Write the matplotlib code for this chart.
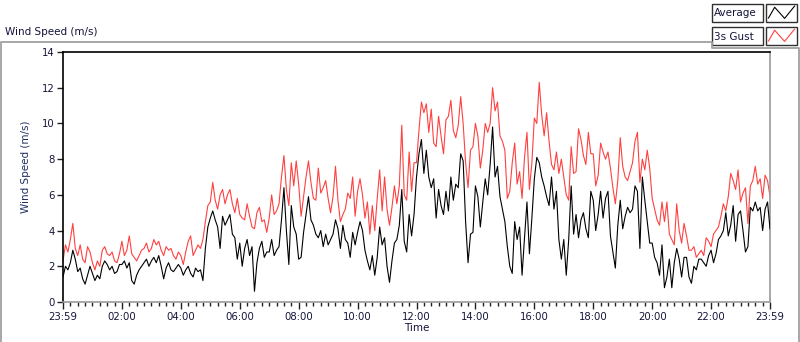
import numpy as np
import matplotlib
matplotlib.use("Agg")
import matplotlib.pyplot as plt
from matplotlib.lines import Line2D
from matplotlib.patches import Rectangle

# ---- data: 5-minute samples, 23:59 -> 23:59 ----
sample_minutes = 5
avg_speed = [
    1.4, 2.0, 1.8, 2.2, 2.9, 2.4, 1.7, 1.9, 1.3, 1.0, 1.5, 2.0,
    1.6, 1.2, 1.5, 1.3, 2.0, 2.3, 2.1, 1.8, 2.0, 1.6, 1.7, 2.1,
    2.1, 2.3, 1.9, 2.2, 1.2, 1.0, 1.5, 1.8, 2.0, 2.2, 2.4, 2.0,
    2.3, 2.5, 2.2, 2.6, 2.0, 1.3, 1.9, 2.2, 1.8, 1.7, 1.9, 2.1,
    1.9, 1.5, 1.8, 2.0, 1.6, 1.4, 1.9, 1.7, 1.8, 1.2, 3.0, 4.2,
    4.7, 5.1, 4.6, 4.2, 3.0, 4.8, 4.3, 4.6, 4.9, 3.8, 3.6, 2.4,
    3.3, 2.0, 3.0, 3.5, 2.6, 3.1, 0.6, 2.2, 3.0, 3.4, 2.5, 2.8,
    2.8, 3.5, 2.6, 2.9, 3.1, 4.6, 6.4, 4.0, 2.1, 5.4, 4.2, 3.8,
    2.4, 2.5, 3.9, 4.9, 5.9, 4.6, 4.3, 3.8, 3.6, 4.0, 3.1, 3.8,
    3.2, 3.5, 3.8, 4.6, 4.1, 3.0, 4.3, 3.5, 3.3, 2.5, 3.9, 3.2,
    3.9, 4.5, 4.0, 2.9, 2.3, 1.8, 2.6, 1.5, 2.5, 4.2, 3.2, 3.6,
    2.0, 1.1, 2.3, 3.3, 3.5, 4.3, 6.3, 3.4, 2.8, 4.9, 3.7, 4.9,
    7.0, 8.3, 9.1, 7.2, 8.5, 7.0, 6.4, 6.9, 4.7, 6.3, 5.4, 4.9,
    6.2, 5.1, 7.0, 5.7, 6.6, 6.4, 8.3, 7.9, 4.5, 2.2, 3.8, 3.9,
    6.5, 5.9, 4.2, 5.6, 6.9, 6.0, 7.7, 9.8, 7.0, 7.6, 5.9, 5.2,
    4.5, 3.1, 2.0, 1.6, 4.5, 3.5, 4.2, 1.5, 3.6, 5.6, 2.7, 4.7,
    6.9, 8.1, 7.8, 7.0, 6.5, 5.9, 5.4, 7.0, 5.2, 6.2, 3.5, 2.4,
    3.5, 1.5, 3.5, 6.5, 3.8, 4.9, 3.6, 4.6, 5.0, 4.1, 3.6, 6.2,
    5.7, 4.0, 4.9, 6.2, 4.7, 5.8, 6.2, 3.7, 2.8, 1.9, 4.3, 5.7,
    4.1, 4.8, 5.3, 5.0, 5.2, 6.5, 6.2, 3.0, 7.0, 5.7, 4.5, 3.3,
    3.3, 2.5, 2.2, 1.5, 3.2, 0.8, 1.4, 2.4, 0.8, 2.2, 3.0, 2.4,
    1.4, 2.5, 2.5, 1.4, 1.05, 2.0, 1.8, 2.4, 2.4, 2.2, 2.0, 2.6,
    2.9, 2.2, 2.7, 3.5, 3.7, 4.0, 5.0, 3.7, 4.3, 5.4, 3.4, 4.9,
    5.1, 4.0, 2.8, 3.1, 5.3, 5.1, 5.6, 5.1, 5.3, 4.0, 5.2, 5.6, 4.1,
]
gust_speed = [
    2.3, 3.2, 2.8, 3.5, 4.4, 3.0, 2.6, 3.2, 2.4, 2.2, 3.1, 2.8,
    2.2, 1.8, 2.3, 2.0, 2.9, 3.1, 2.7, 2.6, 2.8, 2.3, 2.2, 2.7,
    3.4, 2.6, 2.9, 3.7, 2.7, 2.5, 2.3, 2.6, 2.9, 3.0, 3.3, 2.8,
    3.0, 3.5, 3.2, 3.4, 2.9, 2.6, 3.1, 2.9, 3.0, 2.6, 2.4, 2.8,
    2.6, 2.1, 2.8, 3.4, 3.7, 2.6, 2.9, 3.2, 3.0, 3.5, 4.5, 5.4,
    5.6, 6.7, 5.7, 5.2, 6.0, 6.3, 5.5, 6.0, 6.3, 5.5, 5.0, 5.8,
    4.9, 4.7, 4.6, 5.5, 4.8, 4.2, 4.1, 5.0, 5.3, 4.5, 4.6, 3.9,
    4.7, 6.0, 4.9, 5.1, 5.5, 7.0, 8.2, 6.3, 5.4, 7.8, 6.5, 7.9,
    6.6, 4.8, 5.9, 7.0, 7.9, 6.7, 5.8, 5.7, 7.5, 6.1, 6.4, 6.8,
    5.8, 5.0, 5.9, 7.6, 5.7, 4.5, 4.9, 5.2, 6.1, 5.8, 7.0, 4.8,
    6.2, 6.9, 6.0, 4.7, 5.6, 3.8, 5.4, 4.0, 5.8, 7.4, 5.1, 7.0,
    5.2, 4.3, 5.3, 6.5, 5.5, 6.5, 9.9, 6.0, 5.7, 8.4, 6.2, 7.8,
    7.8, 9.6, 11.2, 10.6, 11.1, 9.5, 10.8, 8.9, 8.7, 10.4, 9.3, 8.3,
    10.2, 10.4, 11.3, 9.6, 9.2, 9.9, 11.5, 10.0, 7.8, 6.4, 8.5, 8.7,
    10.0, 9.3, 7.5, 8.5, 10.0, 9.5, 10.0, 12.0, 10.7, 11.2, 9.3, 9.0,
    8.5, 5.8, 6.2, 7.8, 8.9, 6.6, 7.3, 5.8, 8.1, 9.5, 6.3, 7.8,
    10.3, 10.0, 12.3, 10.5, 9.3, 10.6, 9.0, 7.7, 7.4, 8.4, 7.2, 8.0,
    7.0, 6.0, 5.7, 8.7, 7.2, 7.3, 9.7, 9.1, 8.2, 7.7, 9.5, 8.3,
    8.3, 6.5, 7.1, 8.9, 8.4, 8.0, 8.4, 7.5, 6.4, 5.5, 6.8, 9.2,
    7.6, 7.0, 6.8, 7.3, 7.8, 9.0, 9.5, 6.7, 8.0, 7.4, 8.5, 7.5,
    5.8, 5.2, 4.6, 4.3, 5.6, 4.5, 5.6, 3.8, 3.5, 3.2, 5.5, 4.0,
    3.3, 4.4, 3.7, 2.9, 2.9, 3.1, 2.5, 2.7, 2.9, 2.6, 3.6, 3.4,
    3.1, 3.8, 4.0, 4.2, 4.8, 5.5, 5.1, 5.9, 7.2, 6.8, 6.3, 7.4,
    5.6, 6.1, 6.4, 4.4, 6.5, 6.8, 7.6, 6.6, 6.9, 5.8, 7.1, 6.8, 5.9,
]
xtick_hours = [0, 2, 4, 6, 8, 10, 12, 14, 16, 18, 20, 22, 24]
xtick_labels = ["23:59", "02:00", "04:00", "06:00", "08:00", "10:00", "12:00",
                "14:00", "16:00", "18:00", "20:00", "22:00", "23:59"]
ytick_values = [0, 2, 4, 6, 8, 10, 12, 14]
series_names = ["Average", "3s Gust"]
series_colors = ["#000000", "#ff4040"]

hours = np.arange(len(avg_speed)) * sample_minutes / 60.0

plt.rcParams['font.family'] = ['DejaVu Sans']
W, H = 800, 342
fig = plt.figure(figsize=(W / 100, H / 100), dpi=100)
fig.patch.set_facecolor('white')

L, R, T, B = 63, 770, 52, 302
ax = fig.add_axes([L / W, 1 - B / H, (R - L) / W, (B - T) / H])
ax.plot(hours, gust_speed, color=series_colors[1], lw=0.8, zorder=2)
ax.plot(hours, avg_speed, color=series_colors[0], lw=0.8, zorder=3)
ax.set_xlim(0, 24)
ax.set_ylim(0, 14)

txtc = '#14143a'
ax.set_xticks(xtick_hours)
ax.set_xticklabels(xtick_labels)
ax.set_xticks(np.arange(0, 24.01, 0.25), minor=True)
ax.set_yticks(ytick_values)
ax.tick_params(axis='x', which='major', length=5, width=1, color='#202020',
               labelsize=7.3, labelcolor=txtc, pad=2)
ax.tick_params(axis='x', which='minor', length=3, width=1, color='#202020')
ax.tick_params(axis='y', which='major', length=4, width=1, color='#202020',
               labelsize=7.3, labelcolor=txtc, pad=2)
for side in ['top', 'left']:
    ax.spines[side].set_color('black')
    ax.spines[side].set_linewidth(1.2)
for side in ['bottom', 'right']:
    ax.spines[side].set_color('#9a9a9a')
    ax.spines[side].set_linewidth(1.2)

ax.set_xlabel("Time", fontsize=7.5, color=txtc, labelpad=1)
ax.set_ylabel("Wind Speed (m/s)", fontsize=7.5, color='#1f2f60', labelpad=6)
ax.yaxis.set_label_coords(-0.045, 0.54)

# ---- overlay in pixel coordinates for panel frame, title and legend ----
ov = fig.add_axes([0, 0, 1, 1], zorder=-1)
ov.set_xlim(0, W)
ov.set_ylim(H, 0)
ov.axis('off')
ov2 = fig.add_axes([0, 0, 1, 1], zorder=5)
ov2.set_xlim(0, W)
ov2.set_ylim(H, 0)
ov2.axis('off')
ov2.patch.set_alpha(0)

gray = '#a0a0a0'
ov2.add_line(Line2D([1, 1, 712, 712, 799, 799], [342, 42, 42, 48, 48, 342],
                    color=gray, lw=1.3))

fig.text(5 / W, 1 - 32 / H, "Wind Speed (m/s)", fontsize=7.5, color=txtc,
         va='center', ha='left')

legend_rows = [(4, 22), (27, 45)]
for (y0, y1), name, col in zip(legend_rows, series_names, series_colors):
    ov2.add_patch(Rectangle((712, y0), 51, y1 - y0, facecolor='white',
                            edgecolor='#303030', lw=1.0))
    ov2.add_patch(Rectangle((766, y0), 31, y1 - y0, facecolor='white',
                            edgecolor='#303030', lw=1.0))
    ov2.text(714, (y0 + y1) / 2 + 0.5, name, fontsize=7.5, color=txtc,
             va='center', ha='left')
    bx, bw, bh = 766, 31, y1 - y0
    fx = [0.08, 0.28, 0.6, 0.92]
    fy = [0.22, 0.82, 0.2, 0.88]
    ov2.add_line(Line2D([bx + f * bw for f in fx], [y1 - f * bh for f in fy],
                        color=col, lw=0.8))

fig.savefig("out.png", dpi=100, facecolor='white')
